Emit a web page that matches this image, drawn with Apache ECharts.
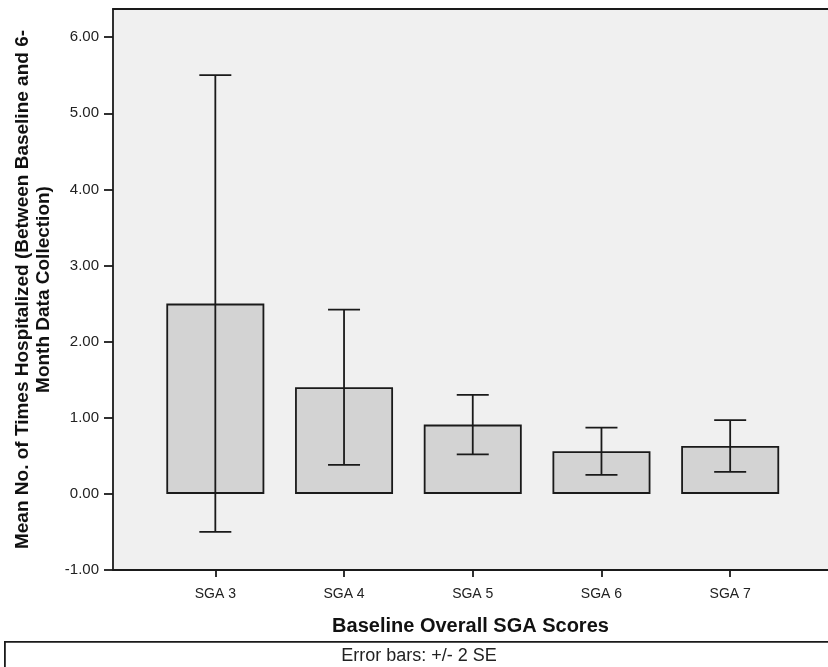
<!DOCTYPE html>
<html>
<head>
<meta charset="utf-8">
<title></title>
<script src="https://cdn.jsdelivr.net/npm/echarts@6/dist/echarts.min.js"></script>
<style>
  html, body { margin: 0; padding: 0; background: #fff; }
  #tubiao { width: 828px; height: 667px; }
</style>
</head>
<body>
<div id="tubiao"></div>
<script>
// data
var categories = ['SGA 3', 'SGA 4', 'SGA 5', 'SGA 6', 'SGA 7'];
var means = [2.50, 1.40, 0.91, 0.56, 0.63];
var errLow = [-0.50, 0.38, 0.52, 0.25, 0.29];
var errHigh = [5.50, 2.42, 1.30, 0.87, 0.97];
var yTicks = [-1, 0, 1, 2, 3, 4, 5, 6];

var barData = [];
var errData = [];
for (var i = 0; i < categories.length; i++) {
  barData.push([i, means[i]]);
  errData.push([i, errLow[i], errHigh[i]]);
}

var myChart = echarts.init(document.getElementById('tubiao'));
myChart.setOption({
  animation: false,
  textStyle: { fontFamily: 'Liberation Sans, Arial, sans-serif' },
  grid: {
    left: 113, top: 9, right: 0, bottom: 97,
    show: true,
    backgroundColor: '#f0f0f0',
    borderWidth: 0
  },
  xAxis: [
    {
      type: 'value',
      min: -0.795,
      max: 4.76,
      name: 'Baseline Overall SGA Scores',
      nameLocation: 'middle',
      nameGap: 46,
      nameTextStyle: { fontSize: 20, fontWeight: 'bold', color: '#111' },
      splitLine: { show: false },
      axisLine: { onZero: false, lineStyle: { color: '#1a1a1a', width: 1.8 } },
      axisTick: { show: true, length: 7, customValues: [0, 1, 2, 3, 4], lineStyle: { color: '#1a1a1a', width: 1.8 } },
      axisLabel: {
        customValues: [0, 1, 2, 3, 4],
        fontSize: 14, color: '#222', margin: 17,
        formatter: function (v) { return categories[Math.round(v)]; }
      }
    },
    {
      // top frame line only
      type: 'value',
      position: 'top',
      min: -0.795,
      max: 4.76,
      splitLine: { show: false },
      axisLine: { show: true, onZero: false, lineStyle: { color: '#1a1a1a', width: 1.8 } },
      axisTick: { show: false },
      axisLabel: { show: false }
    }
  ],
  yAxis: {
    type: 'value',
    min: -1,
    max: 6.37,
    name: 'Mean No. of Times Hospitalized (Between Baseline and 6-\nMonth Data Collection)',
    nameLocation: 'middle',
    nameGap: 58,
    nameTextStyle: { fontSize: 19, fontWeight: 'bold', color: '#111', lineHeight: 21 },
    splitLine: { show: false },
    axisLine: { show: true, onZero: false, lineStyle: { color: '#1a1a1a', width: 1.8 } },
    axisTick: { show: true, length: 9, customValues: yTicks, lineStyle: { color: '#1a1a1a', width: 1.8 } },
    axisLabel: {
      customValues: yTicks,
      fontSize: 15, color: '#222', margin: 14,
      formatter: function (v) { return v.toFixed(2); }
    }
  },
  series: [
    {
      type: 'bar',
      data: barData,
      barWidth: 98,
      itemStyle: { color: '#d3d3d3', borderColor: '#1a1a1a', borderWidth: 1.8 }
    },
    {
      type: 'custom',
      data: errData,
      z: 10,
      renderItem: function (params, api) {
        var x = api.value(0);
        var lo = api.coord([x, api.value(1)]);
        var hi = api.coord([x, api.value(2)]);
        var cap = 16;
        var style = { stroke: '#1a1a1a', lineWidth: 1.8 };
        return {
          type: 'group',
          children: [
            { type: 'line', shape: { x1: lo[0], y1: lo[1], x2: hi[0], y2: hi[1] }, style: style },
            { type: 'line', shape: { x1: lo[0] - cap, y1: lo[1], x2: lo[0] + cap, y2: lo[1] }, style: style },
            { type: 'line', shape: { x1: hi[0] - cap, y1: hi[1], x2: hi[0] + cap, y2: hi[1] }, style: style }
          ]
        };
      }
    }
  ],
  graphic: [
    {
      type: 'rect',
      left: 4, top: 641,
      shape: { width: 900, height: 60 },
      style: { fill: '#fff', stroke: '#1a1a1a', lineWidth: 1.8 }
    },
    {
      type: 'text',
      x: 419, y: 656,
      style: {
        text: 'Error bars: +/- 2 SE',
        fill: '#222',
        font: '18px Liberation Sans, Arial, sans-serif',
        align: 'center',
        verticalAlign: 'middle'
      }
    }
  ]
});
</script>
</body>
</html>
